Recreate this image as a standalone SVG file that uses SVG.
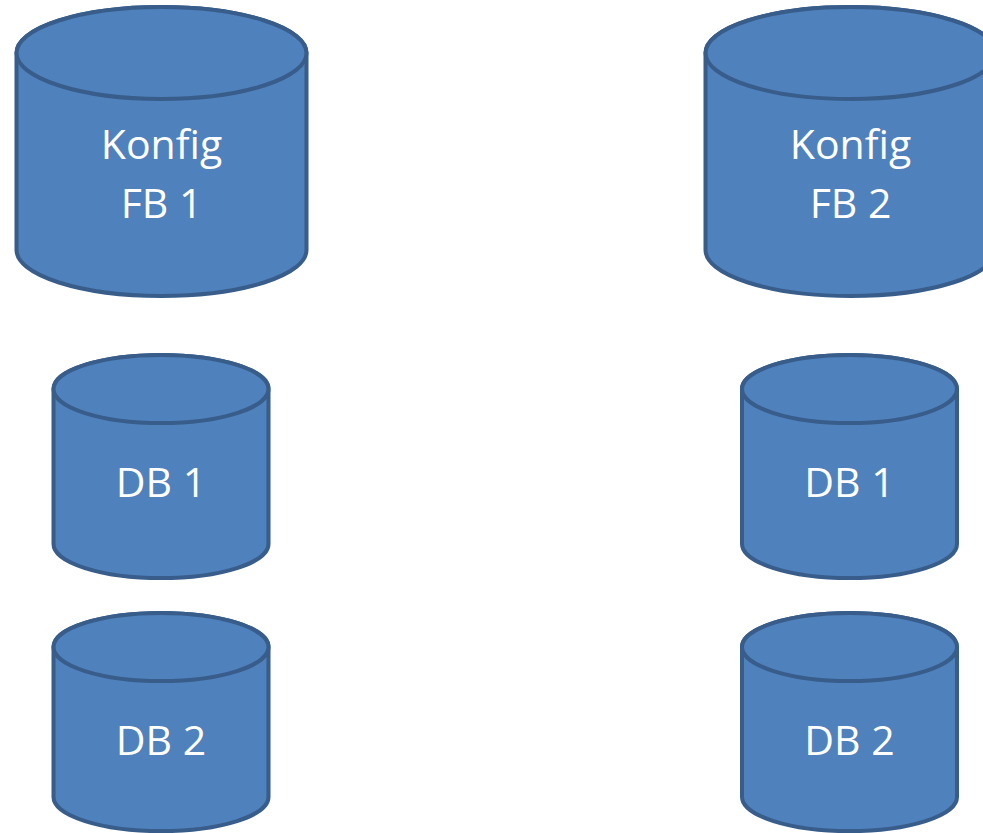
<svg xmlns="http://www.w3.org/2000/svg" width="983" height="833" viewBox="0 0 983 833">
<style>
.cyl{fill:#4F81BD;stroke:#385D8A;stroke-width:4}
.lbl{font-family:"Open Sans","Noto Sans",sans-serif;font-size:41px;fill:#FFFFFF;text-anchor:middle}
</style>
<rect width="983" height="833" fill="#FFFFFF"/>
<g id="connectors"></g>
<g id="konfig-fb1">
<path class="cyl" d="M16.5,53 A145,46 0 0 1 306.5,53 V250 A145,46 0 0 1 16.5,250 Z"/>
<ellipse class="cyl" cx="161.5" cy="53" rx="145" ry="46"/>
<text class="lbl" x="161.5" y="159">Konfig</text>
<text class="lbl" x="161.5" y="218">FB 1</text>
</g>
<g id="konfig-fb2">
<path class="cyl" d="M705.5,53 A145,46 0 0 1 995.5,53 V250 A145,46 0 0 1 705.5,250 Z"/>
<ellipse class="cyl" cx="850.5" cy="53" rx="145" ry="46"/>
<text class="lbl" x="850.5" y="159">Konfig</text>
<text class="lbl" x="850.5" y="218">FB 2</text>
</g>
<g id="db1-left">
<path class="cyl" d="M53.5,389 A107.5,34 0 0 1 268.5,389 V544 A107.5,34 0 0 1 53.5,544 Z"/>
<ellipse class="cyl" cx="161" cy="389" rx="107.5" ry="34"/>
<text class="lbl" x="161" y="497">DB 1</text>
</g>
<g id="db2-left">
<path class="cyl" d="M53.5,647 A107.5,34 0 0 1 268.5,647 V797 A107.5,34 0 0 1 53.5,797 Z"/>
<ellipse class="cyl" cx="161" cy="647" rx="107.5" ry="34"/>
<text class="lbl" x="161" y="755">DB 2</text>
</g>
<g id="db1-right">
<path class="cyl" d="M742,389 A107.5,34 0 0 1 957,389 V544 A107.5,34 0 0 1 742,544 Z"/>
<ellipse class="cyl" cx="849.5" cy="389" rx="107.5" ry="34"/>
<text class="lbl" x="849.5" y="497">DB 1</text>
</g>
<g id="db2-right">
<path class="cyl" d="M742,647 A107.5,34 0 0 1 957,647 V797 A107.5,34 0 0 1 742,797 Z"/>
<ellipse class="cyl" cx="849.5" cy="647" rx="107.5" ry="34"/>
<text class="lbl" x="849.5" y="755">DB 2</text>
</g>
</svg>
